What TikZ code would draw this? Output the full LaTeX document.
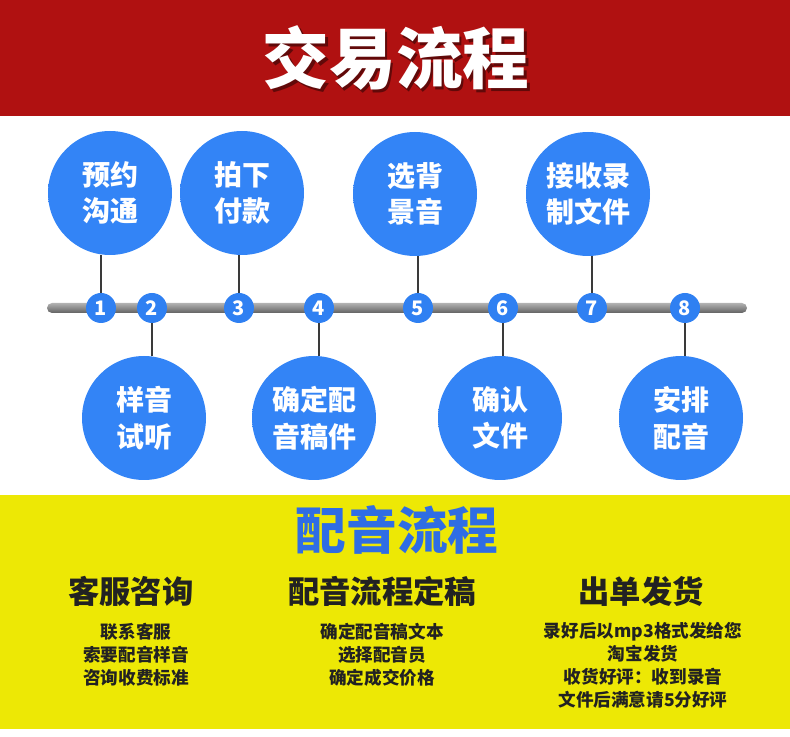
\documentclass[tikz,border=0pt]{standalone}
\usepackage{fontspec}
\usepackage{tikz}
\newfontfamily\cjk{Noto Sans CJK SC}

\definecolor{bandred}{HTML}{B01111}
\definecolor{bandyellow}{HTML}{EDE805}
\definecolor{bubbleA}{HTML}{3384F6}
\definecolor{bubbleB}{HTML}{174C9F}
\definecolor{numblue}{HTML}{2F80F2}
\definecolor{stemgray}{HTML}{3A3A3A}
\definecolor{titleblue}{HTML}{2F6DE4}
\definecolor{inkdark}{HTML}{222222}

\pgfdeclareradialshading{bubbleshade}{\pgfpoint{-10bp}{10bp}}{%
  color(0bp)=(bubbleA); color(40bp)=(bubbleA); color(58bp)=(bubbleB)}

\tikzset{
  bubble/.style={circle, minimum size=93pt, inner sep=0pt, shading=bubbleshade,
    text=white, align=center, font=\cjk\bfseries\fontsize{21}{27.5}\selectfont},
  num/.style={circle, fill=numblue, minimum size=22.5pt, inner sep=0pt,
    text=white, font=\cjk\bfseries\fontsize{15}{15}\selectfont},
  stem/.style={draw=stemgray, line width=1.1pt},
  bar/.style={rectangle, rounded corners=3.75pt, minimum width=525pt,
    minimum height=7.5pt, inner sep=0pt, top color=black!30,
    middle color=black!12, bottom color=black!62},
  heading/.style={text=inkdark, font=\cjk\bfseries\fontsize{23.5}{23.5}\selectfont},
  subtext/.style={text=inkdark, align=center, font=\cjk\bfseries\fontsize{13.2}{17.3}\selectfont}
}

\begin{document}
\begin{tikzpicture}[x=0.75pt, y=-0.75pt]
  \useasboundingbox (0,0) rectangle (790,737);

  % bands
  \fill[bandred] (0,0) rectangle (790,116);
  \fill[bandyellow] (0,495) rectangle (790,729);

  % title
  \node[text=black!45!bandred, font=\cjk\bfseries\fontsize{50}{50}\selectfont] (title-shadow) at (398.5,60.5) {交易流程};
  \node[text=white, font=\cjk\bfseries\fontsize{50}{50}\selectfont] (title) at (396,58) {交易流程};

  % timeline
  \node[bar] (bar) at (397,308) {};

  \node[bubble] (b1) at (110,193) {预约\\沟通};
  \node[bubble] (b3) at (242,193) {拍下\\付款};
  \node[bubble] (b5) at (415,194) {选背\\景音};
  \node[bubble] (b7) at (588,194) {接收录\\制文件};

  \node[bubble] (b2) at (144,418) {样音\\试听};
  \node[bubble] (b4) at (314,418) {确定配\\音稿件};
  \node[bubble] (b6) at (500,418) {确认\\文件};
  \node[bubble] (b8) at (681,418) {安排\\配音};

  \foreach \i/\x in {1/101,2/152,3/239,4/319,5/418,6/503,7/592,8/685}
    \node[num] (n\i) at (\x,308) {\i};

  \foreach \i in {1,3,5,7}
    \draw[stem] (n\i.north) -- (n\i |- b\i.south);
  \foreach \i in {2,4,6,8}
    \draw[stem] (n\i.south) -- (n\i |- b\i.north);

  % lower part
  \node[text=titleblue, font=\cjk\bfseries\fontsize{38}{38}\selectfont] (flow) at (397,530) {配音流程};

  \node[heading] (col1) at (131,591) {客服咨询};
  \node[heading] (col2) at (382,591) {配音流程定稿};
  \node[heading] (col3) at (641,591) {出单发货};

  \node[subtext] (txt1) at (136,655) {联系客服\\索要配音样音\\咨询收费标准};
  \node[subtext] (txt2) at (382,655) {确定配音稿文本\\选择配音员\\确定成交价格};
  \node[subtext] (txt3) at (643,665) {录好后以mp3格式发给您\\淘宝发货\\收货好评：收到录音\\文件后满意请5分好评};

\end{tikzpicture}
\end{document}
